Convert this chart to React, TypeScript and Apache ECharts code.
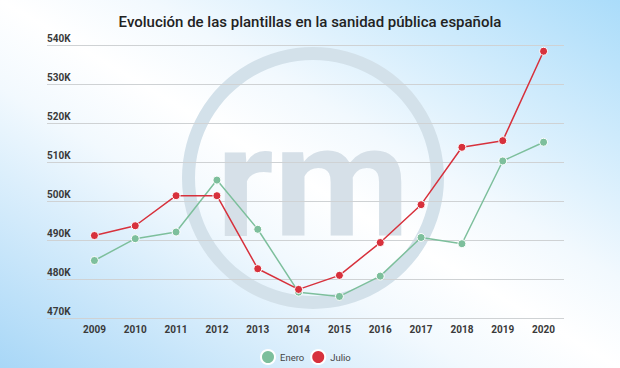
import React, { useEffect, useRef } from "react";
import * as echarts from "echarts";

const years = ["2009", "2010", "2011", "2012", "2013", "2014", "2015", "2016", "2017", "2018", "2019", "2020"];
const enero = [484.8, 490.4, 492.1, 505.4, 492.8, 476.7, 475.6, 480.8, 490.7, 489.1, 510.3, 515.1];
const julio = [491.2, 493.7, 501.4, 501.4, 482.7, 477.4, 481.0, 489.4, 499.1, 513.8, 515.5, 538.4];
const yMin = 470;
const yMax = 540;
const yStep = 10;

const GREEN = "#7dbf9c";
const RED = "#d7313c";

export default function App() {
  const ref = useRef<HTMLDivElement>(null);
  useEffect(() => {
    if (!ref.current) return;
    const chart = echarts.init(ref.current, null, { renderer: "svg" });
    chart.setOption({
      animation: false,
      title: {
        text: "Evolución de las plantillas en la sanidad pública española",
        left: "center",
        top: 9,
        textStyle: { fontFamily: "Roboto", fontSize: 15, fontWeight: 500, color: "#222" },
      },
      graphic: [
        {
          type: "rect",
          z: -100,
          silent: true,
          shape: { x: 0, y: 0, width: 620, height: 368 },
          style: {
            fill: new echarts.graphic.LinearGradient(0, 1, 1, 0, [
              { offset: 0, color: "#a8d7f7" },
              { offset: 0.38, color: "#f2f9fe" },
              { offset: 0.5, color: "#ffffff" },
              { offset: 0.62, color: "#f2f9fe" },
              { offset: 1, color: "#aadcfa" },
            ]),
          },
        },
        {
          type: "ring",
          z: -90,
          silent: true,
          shape: { cx: 313, cy: 178, r: 131, r0: 118 },
          style: { fill: "#d3e1ea" },
        },
        {
          type: "text",
          z: -90,
          silent: true,
          x: 313,
          y: 182,
          style: {
            text: "rm",
            fontFamily: "Roboto",
            fontWeight: "bold",
            fontSize: 157,
            fill: "#d6e0e8",
            align: "center",
            verticalAlign: "middle",
          },
        },
      ],
      legend: {
        data: ["Enero", "Julio"],
        left: 255,
        top: 344,
        icon: "circle",
        itemWidth: 14,
        itemHeight: 14,
        itemGap: 6,
        textStyle: { fontFamily: "Roboto", fontSize: 9.5, color: "#444" },
      },
      grid: [
        { left: 47, right: 56, top: 45, bottom: 49.7 },
        { left: 74, right: 56, top: 45, bottom: 49.7 },
      ],
      xAxis: [
        { gridIndex: 0, type: "value", show: false, min: 0, max: 1 },
        {
          gridIndex: 1,
          type: "category",
          data: years,
          boundaryGap: true,
          axisLine: { show: false },
          axisTick: { show: false },
          axisLabel: { margin: 6, fontFamily: "Roboto", fontSize: 10, fontWeight: "bold", color: "#3a3a3a" },
        },
      ],
      yAxis: [
        {
          gridIndex: 0,
          type: "value",
          min: yMin,
          max: yMax,
          interval: yStep,
          axisLine: { show: false },
          axisTick: { show: false },
          splitLine: { lineStyle: { color: "#cfd2d4", width: 1 } },
          axisLabel: {
            inside: true,
            margin: 0,
            verticalAlign: "bottom",
            padding: [0, 0, 2, 0],
            fontFamily: "Roboto",
            fontSize: 10,
            fontWeight: "bold",
            color: "#3a3a3a",
            formatter: (v: number) => `${v}K`,
          },
        },
        { gridIndex: 1, type: "value", min: yMin, max: yMax, interval: yStep, show: false, splitLine: { show: false } },
      ],
      series: [
        {
          name: "Enero",
          type: "line",
          xAxisIndex: 1,
          yAxisIndex: 1,
          data: enero,
          symbol: "circle",
          symbolSize: 8,
          lineStyle: { color: GREEN, width: 1.5 },
          itemStyle: { color: GREEN, borderColor: "#fff", borderWidth: 1 },
        },
        {
          name: "Julio",
          type: "line",
          xAxisIndex: 1,
          yAxisIndex: 1,
          data: julio,
          symbol: "circle",
          symbolSize: 8,
          lineStyle: { color: RED, width: 1.5 },
          itemStyle: { color: RED, borderColor: "#fff", borderWidth: 1 },
        },
      ],
    });
    return () => chart.dispose();
  }, []);
  return <div ref={ref} style={{ width: 620, height: 368, position: "absolute", left: 0, top: 0 }} />;
}
